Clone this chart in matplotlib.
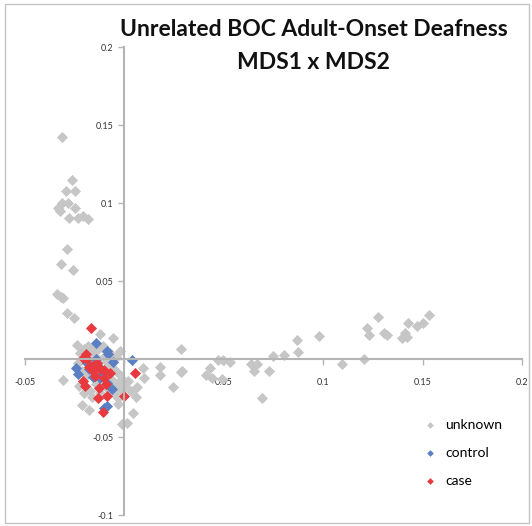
import matplotlib.pyplot as plt
from matplotlib.patches import Rectangle

# MDS coordinates per sample group
unknown_x = [-0.0313, -0.0263, -0.0293, -0.0247, -0.0313, -0.0333, -0.0323, -0.0283,
             -0.0247, -0.0278, -0.0232, -0.0207, -0.0182, -0.0288, -0.0318, -0.0258,
             -0.0338, -0.0318, -0.0308, -0.0288, -0.0253, -0.0121, -0.0056, -0.0237,
             0.0283, 0.0177, 0.0096, 0.0177, 0.0283, 0.0101, 0.0247, -0.0308,
             0.0066, 0.0056, -0.0212, -0.0177, -0.0030, 0.0045, -0.0010, 0.0015,
             0.0288, 0.0409, 0.0429, 0.0439, 0.0470, 0.0495, 0.0490, 0.0530,
             0.0636, 0.0667, 0.0652, 0.0692, 0.0727, 0.0747, 0.0803, 0.0869,
             0.0874, 0.0980, 0.1096, 0.1207, 0.1222, 0.1232, 0.1278, 0.1308,
             0.1323, 0.1399, 0.1414, 0.1424, 0.1429, 0.1470, 0.1500, 0.1535,
             -0.0222, -0.0202, -0.0182, -0.0157, -0.0131, -0.0106, -0.0071, -0.0040,
             -0.0020, -0.0232, -0.0212, -0.0192, -0.0172, -0.0146, -0.0111, -0.0081,
             -0.0056, -0.0030, -0.0010, -0.0035, -0.0066, -0.0096, -0.0141, -0.0172,
             -0.0121, -0.0081, -0.0051, -0.0020, 0.0005, 0.0020, 0.0035, -0.0162,
             -0.0227, -0.0202, -0.0030, -0.0061, -0.0091]
unknown_y = [0.1421, 0.1145, 0.1074, 0.1074, 0.1003, 0.0971, 0.0952, 0.0997,
             0.0971, 0.0907, 0.0907, 0.0919, 0.0900, 0.0707, 0.0611, 0.0572,
             0.0418, 0.0399, 0.0392, 0.0296, 0.0264, 0.0161, 0.0135, 0.0090,
             0.0064, -0.0051, -0.0058, -0.0103, -0.0084, -0.0122, -0.0180, -0.0135,
             -0.0180, -0.0244, -0.0296, -0.0328, -0.0289, -0.0347, -0.0418, -0.0412,
             -0.0077, -0.0103, -0.0058, -0.0122, -0.0006, -0.0006, -0.0129, -0.0019,
             -0.0032, -0.0032, -0.0077, -0.0251, -0.0077, 0.0019, 0.0026, 0.0122,
             0.0045, 0.0148, -0.0032, 0.0000, 0.0199, 0.0154, 0.0270, 0.0167,
             0.0154, 0.0135, 0.0167, 0.0141, 0.0231, 0.0212, 0.0231, 0.0283,
             0.0039, 0.0064, 0.0084, 0.0051, 0.0064, 0.0084, 0.0039, 0.0013,
             0.0051, -0.0026, -0.0077, -0.0109, -0.0026, 0.0019, 0.0000, -0.0026,
             -0.0058, -0.0090, -0.0129, -0.0161, -0.0129, -0.0090, -0.0161, -0.0206,
             -0.0219, -0.0193, -0.0219, -0.0193, -0.0174, -0.0141, -0.0206, -0.0244,
             -0.0174, -0.0219, -0.0251, 0.0000, 0.0051]

control_x = [-0.0141, -0.0086, -0.0081, -0.0141, 0.0040, -0.0242, -0.0232, -0.0177,
             -0.0126, -0.0157, -0.0121, -0.0086, -0.0061, -0.0086, -0.0101, -0.0056,
             -0.0187, -0.0111]
control_y = [0.0103, 0.0051, 0.0032, 0.0000, -0.0006, -0.0058, -0.0096, -0.0064,
             -0.0051, -0.0116, -0.0122, -0.0154, -0.0193, -0.0302, -0.0315, -0.0019,
             -0.0026, -0.0096]

case_x = [-0.0167, -0.0192, -0.0207, -0.0187, -0.0162, -0.0136, -0.0121, -0.0157,
          -0.0101, 0.0051, -0.0207, -0.0197, -0.0126, -0.0086, -0.0131, 0.0000,
          -0.0106, -0.0146, -0.0101, -0.0177, -0.0091, -0.0071]
case_y = [0.0199, 0.0032, 0.0006, 0.0000, -0.0045, -0.0026, -0.0064, -0.0077,
          -0.0071, -0.0090, -0.0141, -0.0174, -0.0186, -0.0238, -0.0251, -0.0238,
          -0.0341, -0.0109, -0.0122, -0.0051, -0.0161, -0.0090]

x_ticks = [-0.05, 0, 0.05, 0.1, 0.15, 0.2]
x_labels = ['-0.05', '0', '0.05', '0.1', '0.15', '0.2']
y_ticks = [-0.1, -0.05, 0, 0.05, 0.1, 0.15, 0.2]
y_labels = ['-0.1', '-0.05', '0', '0.05', '0.1', '0.15', '0.2']

plt.rcParams['font.family'] = ['Lato', 'DejaVu Sans']

fig = plt.figure(figsize=(5.32, 5.26), dpi=100)
ax = fig.add_axes([0.047, 0.0209, 0.934, 0.8897])

# points sit under the axis lines and tick labels
ms = 32
ax.scatter(unknown_x, unknown_y, marker='D', s=ms, color='#c6c6c6',
           linewidths=0, label='unknown', zorder=2)
ax.scatter(control_x, control_y, marker='D', s=ms, color='#5a7fc2',
           linewidths=0, label='control', zorder=2.1)
ax.scatter(case_x, case_y, marker='D', s=ms, color='#e8393f',
           linewidths=0, label='case', zorder=2.2)

ax.set_xlim(-0.05, 0.2)
ax.set_ylim(-0.1, 0.2)

# axes cross at the origin, Excel style
for side in ['top', 'right']:
    ax.spines[side].set_visible(False)
ax.spines['left'].set_position(('data', 0))
ax.spines['bottom'].set_position(('data', 0))
for side in ['left', 'bottom']:
    ax.spines[side].set_color('#b4b4b4')
    ax.spines[side].set_linewidth(1.5)

ax.set_xticks(x_ticks)
ax.set_xticklabels(x_labels)
ax.set_yticks(y_ticks)
ax.set_yticklabels(y_labels)
ax.tick_params(axis='both', colors='#b4b4b4', labelcolor='#333333',
               labelsize=6.5, length=4, width=1)
ax.tick_params(axis='x', pad=10)
ax.tick_params(axis='y', pad=4)
ax.patch.set_visible(False)

fig.text(0.59, 0.943, 'Unrelated BOC Adult-Onset Deafness', ha='center', va='center',
         fontsize=16.5, fontweight='bold', color='#111111')
fig.text(0.59, 0.882, 'MDS1 x MDS2', ha='center', va='center',
         fontsize=16.5, fontweight='bold', color='#111111')

leg = ax.legend(loc='upper left', bbox_to_anchor=(0.769, 0.217),
                bbox_transform=fig.transFigure, frameon=False,
                fontsize=10, labelspacing=1.15, handletextpad=0.1,
                markerscale=0.6, borderpad=0)

fig.patches.append(Rectangle((0.009, 0.006), 0.985, 0.986, transform=fig.transFigure,
                             fill=False, edgecolor='#c4c4c4', linewidth=1))

fig.savefig('out.png', dpi=100)
